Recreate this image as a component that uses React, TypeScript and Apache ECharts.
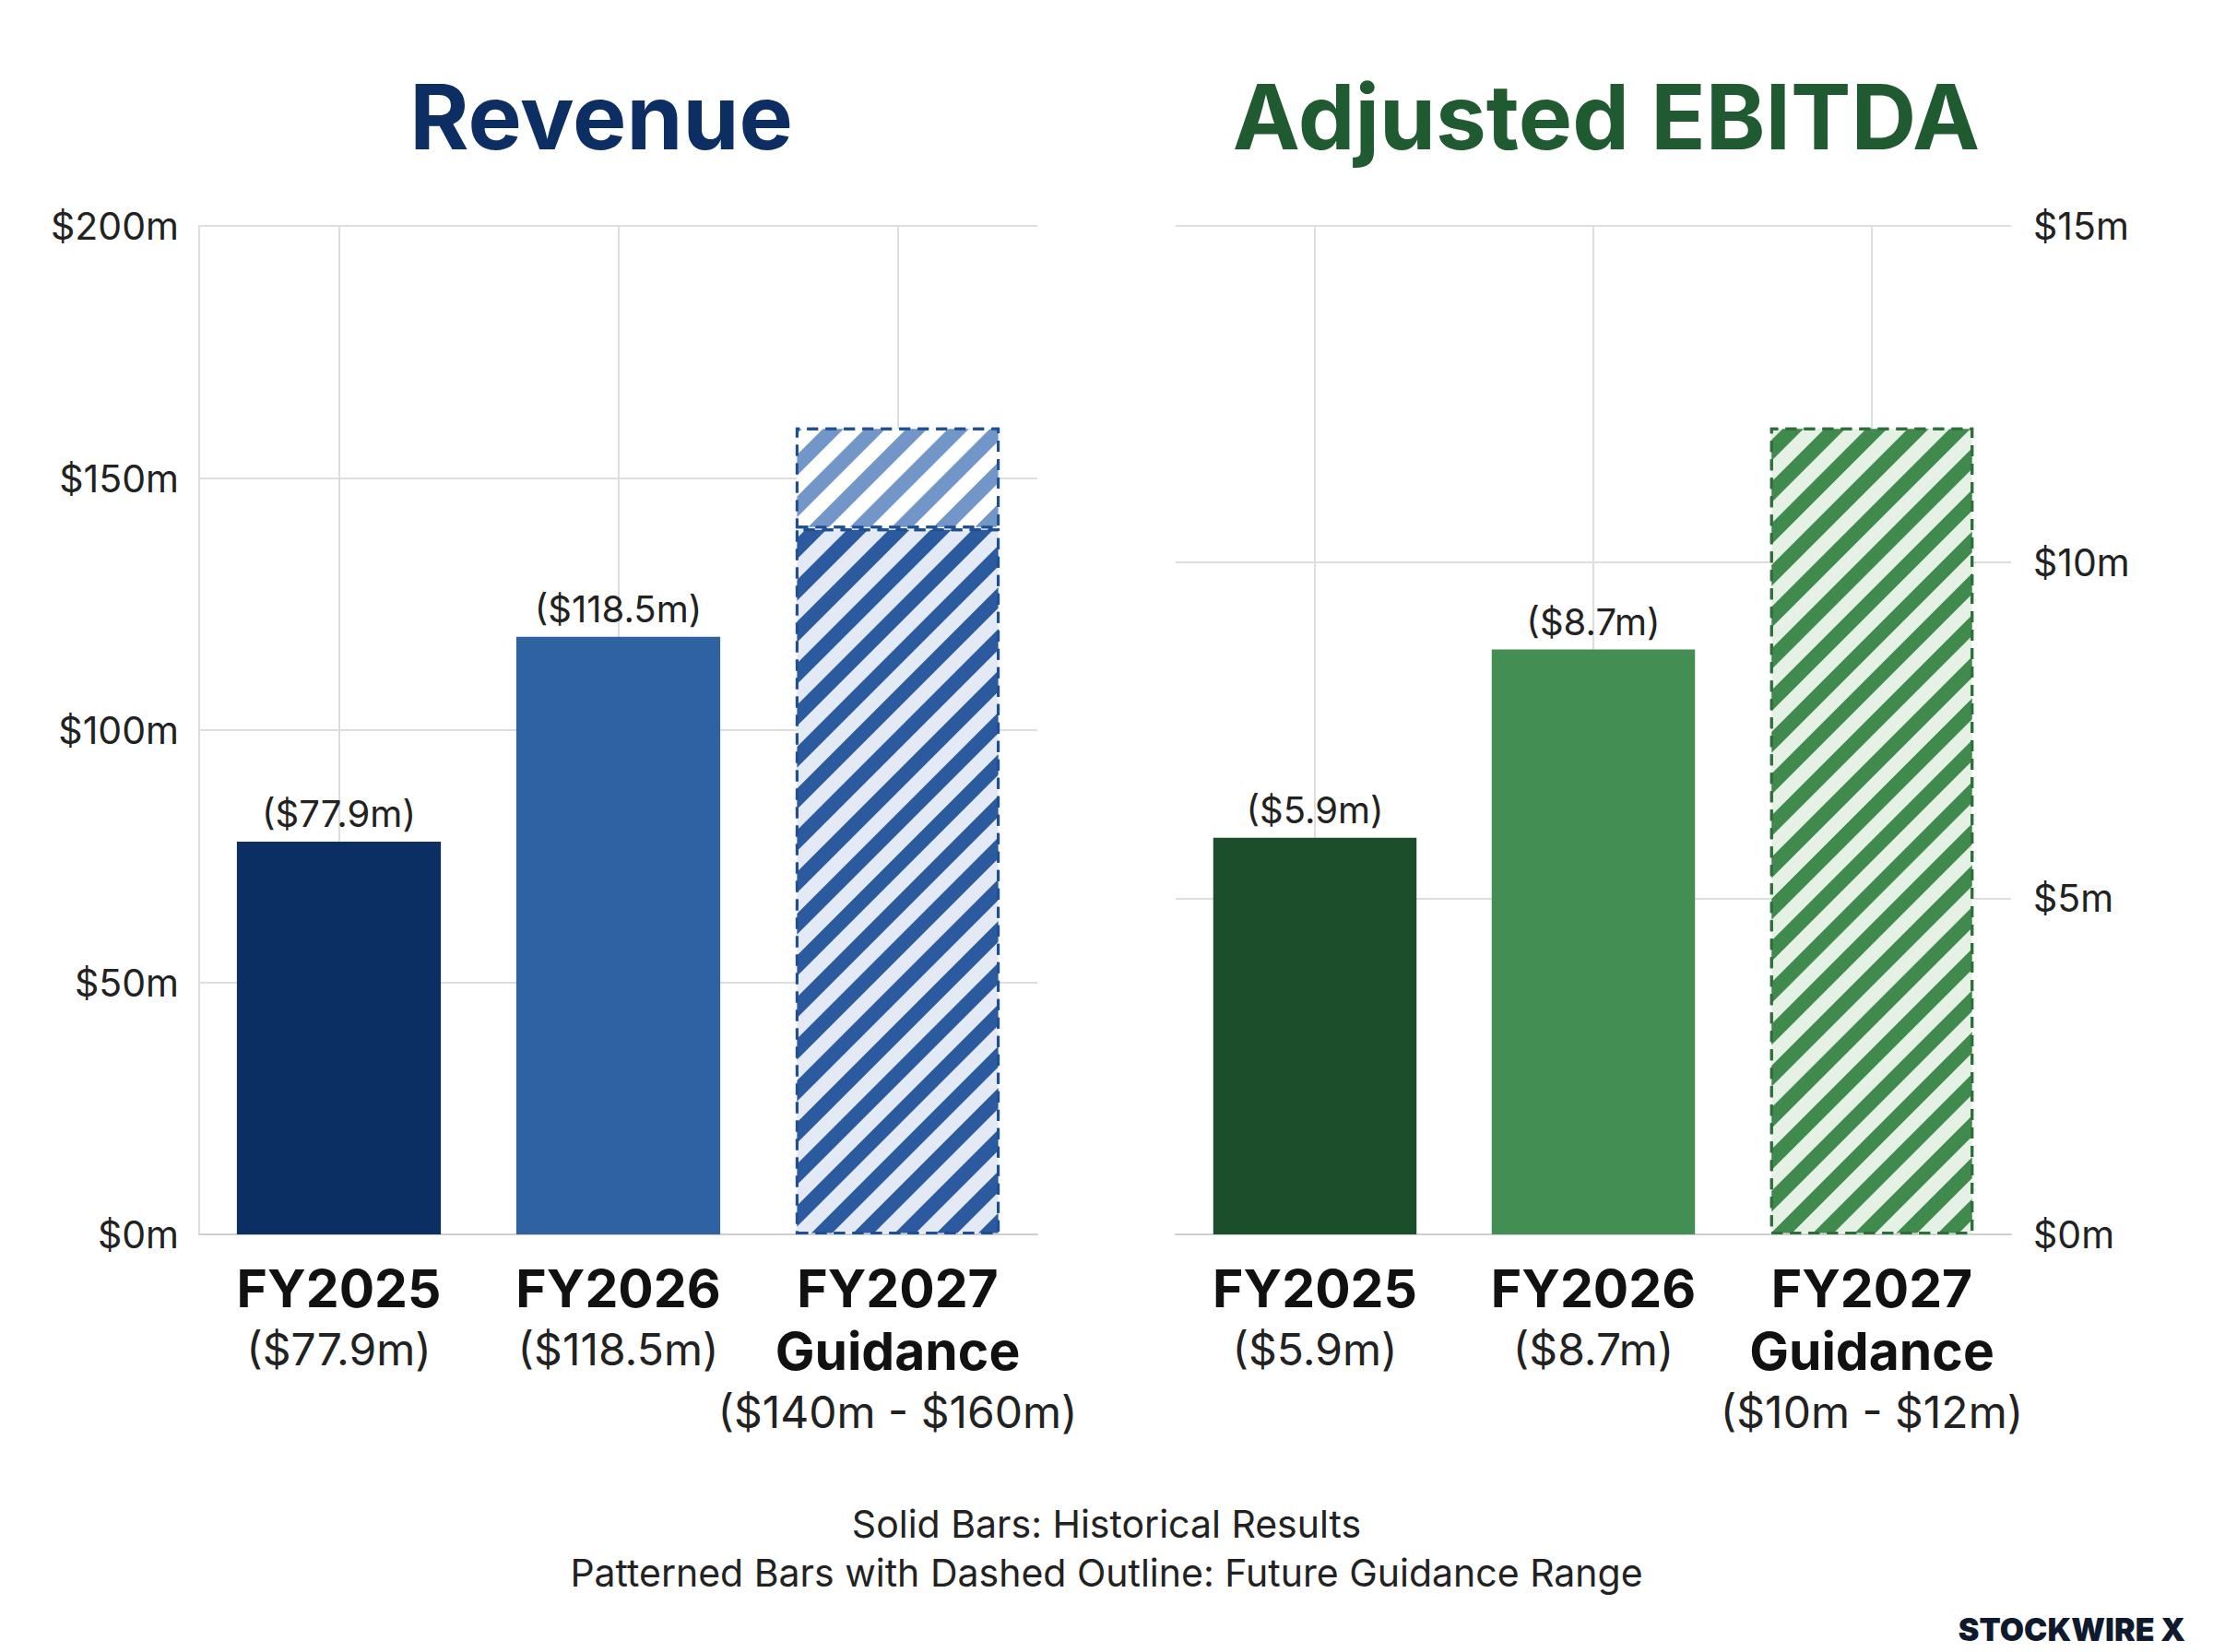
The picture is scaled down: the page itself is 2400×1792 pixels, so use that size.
import React, { useEffect, useRef } from 'react';
import * as echarts from 'echarts';

const categories = ['FY2025', 'FY2026', 'FY2027'];
const revenueActual = [77.9, 118.5, null];
const revenueGuideLow = [null, null, 140];
const revenueGuideHigh = [null, null, 20];
const revenueSubs = ['($77.9m)', '($118.5m)', '($140m - $160m)'];
const ebitdaActual = [5.9, 8.7, null];
const ebitdaGuide = [null, null, 12];
const ebitdaSubs = ['($5.9m)', '($8.7m)', '($10m - $12m)'];

const FONT = 'Inter, Roboto, sans-serif';

const stripes = (color: string) => ({
  symbol: 'rect',
  color,
  dashArrayX: [1, 0],
  dashArrayY: [16, 16],
  rotation: -Math.PI / 4,
  symbolSize: 1,
});

const catLabel = (subs: string[]) => ({
  margin: 24,
  interval: 0,
  formatter: (v: string, i: number) =>
    i === 2
      ? `{name|${v}}\n{name|Guidance}\n{sub|${subs[i]}}`
      : `{name|${v}}\n{sub|${subs[i]}}`,
  rich: {
    name: { fontFamily: FONT, fontSize: 57, fontWeight: 'bold', color: '#111', lineHeight: 68 },
    sub: { fontFamily: FONT, fontSize: 48, color: '#222', lineHeight: 64 },
  },
});

const App: React.FC = () => {
  const chartRef = useRef<HTMLDivElement | null>(null);

  useEffect(() => {
    document.body.style.margin = '0';
    if (!chartRef.current) return;
    const chart = echarts.init(chartRef.current, null, { renderer: 'svg' });

    const valueLabel = (fmt: (v: number) => string) => ({
      show: true,
      position: 'top',
      distance: 10,
      fontFamily: FONT,
      fontSize: 40,
      color: '#222',
      formatter: (p: any) => (p.value == null ? '' : fmt(p.value)),
    });

    // vertical grid lines through category centres, behind the bars
    const vLines = (xi: number, yi: number) => ({
      type: 'line',
      xAxisIndex: xi,
      yAxisIndex: yi,
      z: 0,
      data: [],
      markLine: {
        z: 0,
        silent: true,
        symbol: 'none',
        label: { show: false },
        lineStyle: { color: '#dedede', type: 'solid', width: 2 },
        data: [{ xAxis: 0 }, { xAxis: 1 }, { xAxis: 2 }],
      },
    });

    const option = {
      animation: false,
      backgroundColor: '#fff',
      title: [
        { text: 'Revenue', left: 647, top: 72, textAlign: 'center', textStyle: { fontFamily: FONT, fontSize: 98, fontWeight: 'bold', color: '#0d2e63' } },
        { text: 'Adjusted EBITDA', left: 1737, top: 72, textAlign: 'center', textStyle: { fontFamily: FONT, fontSize: 98, fontWeight: 'bold', color: '#1f5a30' } },
      ],
      grid: [
        { left: 216, right: 1275, top: 245, bottom: 453 },
        { left: 1275, right: 219, top: 245, bottom: 453 },
      ],
      xAxis: [0, 1].map((g) => ({
        type: 'category',
        gridIndex: g,
        data: categories,
        axisLine: { lineStyle: { color: '#cfcfcf', width: 2 } },
        axisTick: { show: false },
        axisLabel: catLabel(g === 0 ? revenueSubs : ebitdaSubs),
      })),
      yAxis: [
        {
          type: 'value', gridIndex: 0, min: 0, max: 200, interval: 50,
          axisLine: { show: true, lineStyle: { color: '#dedede', width: 2 } },
          splitLine: { lineStyle: { color: '#dedede', width: 2 } },
          axisLabel: { margin: 22, fontFamily: FONT, fontSize: 41, color: '#222', formatter: (v: number) => `$${v}m` },
        },
        {
          type: 'value', gridIndex: 1, position: 'right', min: 0, max: 15, interval: 5,
          axisLine: { show: false },
          splitLine: { lineStyle: { color: '#dedede', width: 2 } },
          axisLabel: { margin: 24, fontFamily: FONT, fontSize: 41, color: '#222', formatter: (v: number) => `$${v}m` },
        },
      ],
      series: [
        vLines(0, 0),
        vLines(1, 1),
        {
          type: 'bar', xAxisIndex: 0, yAxisIndex: 0, stack: 'rev', z: 3, barWidth: '73%',
          data: revenueActual.map((v, i) => ({ value: v, itemStyle: { color: i === 0 ? '#0b2f63' : '#2f62a0' } })),
          label: valueLabel((v) => `($${v}m)`),
        },
        {
          type: 'bar', xAxisIndex: 0, yAxisIndex: 0, stack: 'rev', z: 3,
          data: revenueGuideLow,
          itemStyle: { color: '#e3eaf5', decal: stripes('#2c5a9e'), borderColor: '#1f4f91', borderWidth: 3, borderType: [12, 8] },
        },
        {
          type: 'bar', xAxisIndex: 0, yAxisIndex: 0, stack: 'rev', z: 3,
          data: revenueGuideHigh,
          itemStyle: { color: '#ffffff', decal: stripes('#7396c9'), borderColor: '#1f4f91', borderWidth: 3, borderType: [12, 8] },
        },
        {
          type: 'bar', xAxisIndex: 1, yAxisIndex: 1, stack: 'eb', z: 3, barWidth: '73%',
          data: ebitdaActual.map((v, i) => ({ value: v, itemStyle: { color: i === 0 ? '#1b4f2b' : '#438f53' } })),
          label: valueLabel((v) => `($${v}m)`),
        },
        {
          type: 'bar', xAxisIndex: 1, yAxisIndex: 1, stack: 'eb', z: 3,
          data: ebitdaGuide,
          itemStyle: { color: '#e6f1e5', decal: stripes('#3f8a4c'), borderColor: '#2d6e3a', borderWidth: 3, borderType: [12, 8] },
        },
      ],
      graphic: [
        { type: 'text', left: 'center', top: 1632, style: { text: 'Solid Bars: Historical Results', fontFamily: FONT, fontSize: 41, fill: '#222' } },
        { type: 'text', left: 'center', top: 1685, style: { text: 'Patterned Bars with Dashed Outline: Future Guidance Range', fontFamily: FONT, fontSize: 41, fill: '#222' } },
        { type: 'text', right: 30, top: 1750, style: { text: 'STOCKWIRE X', fontFamily: FONT, fontSize: 34, fontWeight: 900, fill: '#0f1a2e' } },
      ],
    };

    chart.setOption(option as any);
    return () => chart.dispose();
  }, []);

  return <div ref={chartRef} style={{ width: 2400, height: 1792 }} />;
};

export default App;
